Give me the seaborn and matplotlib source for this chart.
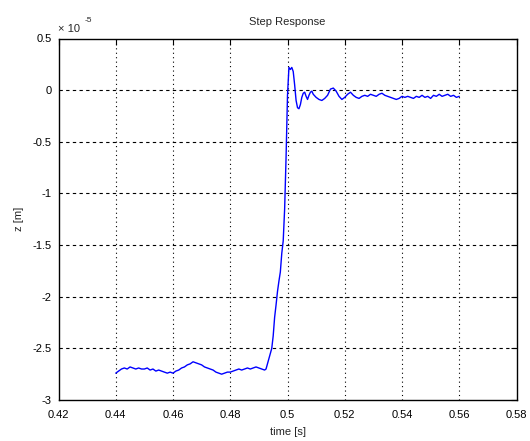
import matplotlib
matplotlib.use("Agg")
import matplotlib.pyplot as plt
import seaborn as sns
import pandas as pd

# time [s] and z [x 1e-6 m]
time_s = [
    0.440, 0.441, 0.442, 0.443, 0.444, 0.445, 0.446, 0.447, 0.448, 0.449,
    0.450, 0.451, 0.452, 0.453, 0.454, 0.455, 0.456, 0.457, 0.458, 0.459,
    0.460, 0.461, 0.462, 0.463, 0.464, 0.465, 0.466, 0.467, 0.468, 0.469,
    0.470, 0.471, 0.472, 0.473, 0.474, 0.475, 0.476, 0.477, 0.478, 0.479,
    0.480, 0.481, 0.482, 0.483, 0.484, 0.485, 0.486, 0.487, 0.488, 0.489,
    0.490, 0.491, 0.492, 0.4925, 0.493, 0.4935, 0.494, 0.4945, 0.495, 0.4955,
    0.496, 0.4965, 0.497, 0.4975, 0.498, 0.4985, 0.499, 0.4995, 0.500, 0.5005,
    0.501, 0.5015, 0.502, 0.5025, 0.503, 0.5035, 0.504, 0.5045, 0.505, 0.5055,
    0.506, 0.5065, 0.507, 0.5075, 0.508, 0.5085, 0.509, 0.510, 0.511, 0.512,
    0.513, 0.514, 0.515, 0.516, 0.517, 0.518, 0.519, 0.520, 0.521, 0.522,
    0.523, 0.524, 0.525, 0.526, 0.527, 0.528, 0.529, 0.530, 0.531, 0.532,
    0.533, 0.534, 0.535, 0.536, 0.537, 0.538, 0.539, 0.540, 0.541, 0.542,
    0.543, 0.544, 0.545, 0.546, 0.547, 0.548, 0.549, 0.550, 0.551, 0.552,
    0.553, 0.554, 0.555, 0.556, 0.557, 0.558, 0.559, 0.560,
]
z_um = [
    -2.74, -2.72, -2.70, -2.69, -2.70, -2.68, -2.69, -2.70, -2.69, -2.70,
    -2.70, -2.69, -2.71, -2.70, -2.72, -2.71, -2.72, -2.73, -2.74, -2.73,
    -2.74, -2.72, -2.71, -2.69, -2.68, -2.66, -2.65, -2.63, -2.64, -2.65,
    -2.66, -2.68, -2.69, -2.70, -2.71, -2.73, -2.74, -2.75, -2.74, -2.73,
    -2.73, -2.72, -2.71, -2.70, -2.71, -2.70, -2.69, -2.70, -2.69, -2.68,
    -2.69, -2.70, -2.71, -2.70, -2.65, -2.60, -2.55, -2.50, -2.38, -2.20,
    -2.08, -1.95, -1.85, -1.76, -1.58, -1.46, -1.15, -0.65, -0.05, 0.22,
    0.20, 0.22, 0.18, 0.05, -0.10, -0.17, -0.18, -0.14, -0.07, -0.03,
    -0.02, -0.06, -0.09, -0.05, -0.02, -0.01, -0.04, -0.07, -0.09, -0.10,
    -0.08, -0.05, 0.01, 0.02, -0.01, -0.06, -0.09, -0.07, -0.04, -0.02,
    -0.05, -0.07, -0.08, -0.06, -0.05, -0.06, -0.04, -0.05, -0.06, -0.04,
    -0.03, -0.05, -0.06, -0.07, -0.08, -0.09, -0.08, -0.06, -0.07, -0.06,
    -0.07, -0.08, -0.06, -0.07, -0.05, -0.07, -0.06, -0.08, -0.05, -0.06,
    -0.04, -0.06, -0.05, -0.04, -0.06, -0.05, -0.07, -0.06,
]

x_ticks = [0.42, 0.44, 0.46, 0.48, 0.50, 0.52, 0.54, 0.56, 0.58]
x_labels = ["0.42", "0.44", "0.46", "0.48", "0.5", "0.52", "0.54", "0.56", "0.58"]
y_ticks = [0.5, 0, -0.5, -1, -1.5, -2, -2.5, -3]
y_labels = ["0.5", "0", "-0.5", "-1", "-1.5", "-2", "-2.5", "-3"]

sns.set_theme(style="white")
plt.rcParams["font.family"] = ["Liberation Sans", "DejaVu Sans"]
plt.rcParams["axes.unicode_minus"] = False

df = pd.DataFrame({"time": time_s, "z": z_um})

fig = plt.figure(figsize=(5.3, 4.41), dpi=100)
ax = fig.add_axes([58.5 / 530, 1 - 400 / 441, 458 / 530, (400 - 38.5) / 441])

sns.lineplot(data=df, x="time", y="z", ax=ax, color="#0000ff", linewidth=1.0,
             sort=False, estimator=None)

ax.set_xlim(0.42, 0.58)
ax.set_ylim(-3, 0.5)
ax.set_xticks(x_ticks)
ax.set_xticklabels(x_labels)
ax.set_yticks(y_ticks)
ax.set_yticklabels(y_labels)

for xv in x_ticks[1:-1]:
    ax.axvline(xv, color="black", linestyle=(0, (1, 3)), linewidth=0.8, zorder=0)
for yv in y_ticks[1:-1]:
    ax.axhline(yv, color="black", linestyle=(0, (3, 3)), linewidth=0.8, zorder=0)

for s in ax.spines.values():
    s.set_color("black")
    s.set_linewidth(1.0)
ax.tick_params(direction="in", length=4, width=0.8, top=True, right=True,
               labelsize=8, colors="black")
ax.tick_params(axis="x", pad=7)
ax.tick_params(axis="y", pad=5)

ax.set_title("Step Response", fontsize=8, pad=10)
ax.set_xlabel("time [s]", fontsize=8, labelpad=5)
ax.set_ylabel("z [m]", fontsize=8, labelpad=6)

ax.text(0.0, 1.012, "\u00d7 10", transform=ax.transAxes, fontsize=8,
        ha="left", va="bottom")
ax.text(0.058, 1.04, "-5", transform=ax.transAxes, fontsize=6,
        ha="left", va="bottom")

fig.savefig("out.png", dpi=100)
